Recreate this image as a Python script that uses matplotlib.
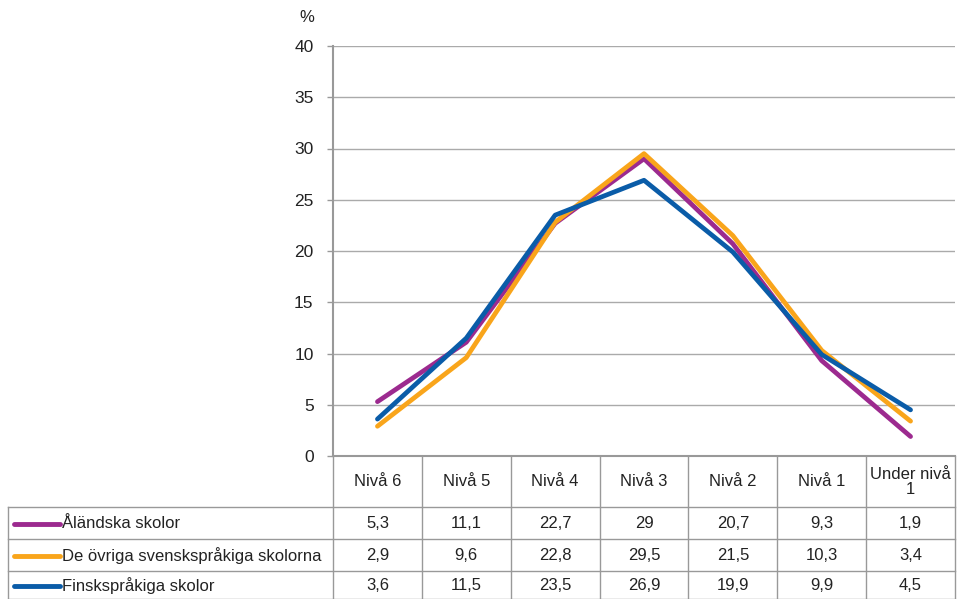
import matplotlib.pyplot as plt
import matplotlib.transforms as mtransforms
from matplotlib.lines import Line2D

levels = ["Nivå 6", "Nivå 5", "Nivå 4", "Nivå 3", "Nivå 2", "Nivå 1", "Under nivå\n1"]
series_names = ["Åländska skolor", "De övriga svenskspråkiga skolorna", "Finskspråkiga skolor"]
aland = [5.3, 11.1, 22.7, 29, 20.7, 9.3, 1.9]
ovriga = [2.9, 9.6, 22.8, 29.5, 21.5, 10.3, 3.4]
finsk = [3.6, 11.5, 23.5, 26.9, 19.9, 9.9, 4.5]
colors = ["#9C2A8F", "#F9A51B", "#0A5CA8"]

W, H = 960, 599
FS = 12
plt.rcParams['font.family'] = ['Liberation Sans', 'DejaVu Sans']
fig = plt.figure(figsize=(W / 100, H / 100), dpi=100)

def fx(px):
    return px / W

def fy(py):
    return 1 - py / H

ax = fig.add_axes([fx(333), fy(456), fx(955) - fx(333), fy(46) - fy(456)])
x = list(range(len(levels)))
for vals, c in zip([aland, ovriga, finsk], colors):
    ax.plot(x, vals, color=c, lw=3.4, solid_capstyle='round', solid_joinstyle='round', zorder=3)

ax.set_xlim(-0.5, len(levels) - 0.5)
ax.set_ylim(0, 40)
ax.set_yticks(range(0, 41, 5))
ax.tick_params(axis='y', length=4, width=1, color='#999999', labelsize=FS + 0.5, pad=10, labelcolor='#222222')
ax.set_xticks([])
ax.grid(axis='y', color='#AAAAAA', lw=1)
ax.set_axisbelow(True)
for s in ['top', 'right']:
    ax.spines[s].set_visible(False)
for s in ['left', 'bottom']:
    ax.spines[s].set_color('#999999')
    ax.spines[s].set_linewidth(1.5)
fig.text(fx(307), fy(18), "%", fontsize=FS, ha='center', va='center', color='#222222')

# data table under the plot
line_kw = dict(color='#999999', lw=1, transform=fig.transFigure)
row_tops = [456, 507, 539, 571, 599]
bounds = [-0.5 + i for i in range(len(levels) + 1)]
blend = mtransforms.blended_transform_factory(ax.transData, fig.transFigure)
for b in bounds:
    fig.add_artist(Line2D([b, b], [fy(456), fy(599)], color='#999999', lw=1, transform=blend))
fig.add_artist(Line2D([fx(8), fx(8)], [fy(507), fy(599)], **line_kw))
for ry in row_tops[1:]:
    fig.add_artist(Line2D([fx(8), fx(955)], [fy(ry), fy(ry)], **line_kw))

for i, lab in enumerate(levels):
    fig.text(i, fy(482), lab, transform=blend, ha='center', va='center',
             fontsize=FS, color='#222222', linespacing=1.05)

for r, (name, vals, c) in enumerate(zip(series_names, [aland, ovriga, finsk], colors)):
    yc = fy((row_tops[r + 1] + row_tops[r + 2]) / 2 + 1)
    fig.add_artist(Line2D([fx(14), fx(60)], [yc, yc], color=c, lw=3.5,
                          solid_capstyle='round', transform=fig.transFigure))
    fig.text(fx(62), yc, name, ha='left', va='center', fontsize=FS, color='#222222')
    for i, v in enumerate(vals):
        fig.text(i, yc, f"{v:g}".replace('.', ','), transform=blend, ha='center',
                 va='center', fontsize=FS, color='#222222')

fig.savefig("out.png", dpi=100)
